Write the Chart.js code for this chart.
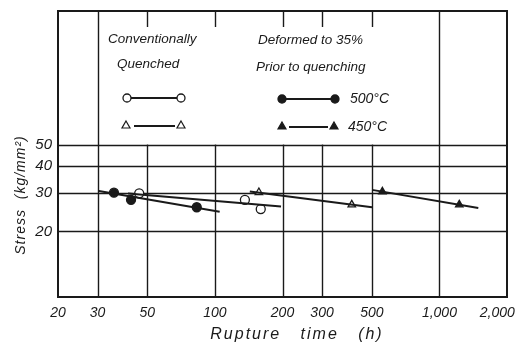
<!DOCTYPE html>
<html>
<head>
<meta charset="utf-8">
<script src="https://cdn.jsdelivr.net/npm/chart.js@4/dist/chart.umd.min.js"></script>
<style>
  body { margin: 0; background: #fff; }
  canvas { display: block; }
</style>
</head>
<body>
<canvas id="ruptureChart" width="517" height="346"></canvas>
<script>
// ejes
const xTicks = [20, 30, 50, 100, 200, 300, 500, 1000, 2000];
const xTickLabels = ['20', '30', '50', '100', '200', '300', '500', '1,000', '2,000     '];
const yTicks = [20, 30, 40, 50];
const yTickLabels = ['20', '30', '40', '50'];
const xFullGrid = [30, 1000];
const xPartGrid = [50, 100, 200, 300, 500];

// Conventionally quenched, 500°C (o)
const conv500Time = [46, 136, 160];
const conv500Stress = [29.9, 27.9, 25.3];
const conv500LineTime = [41, 197];
const conv500LineStress = [29.8, 26.0];

// Conventionally quenched, 450°C (triangulo abierto)
const conv450Time = [157, 407];
const conv450Stress = [30.2, 26.5];
const conv450LineTime = [143, 501];
const conv450LineStress = [30.5, 25.8];

// Deformed 35%, 500°C (punto lleno)
const def500Time = [35.5, 42.3, 83];
const def500Stress = [30.1, 27.9, 25.8];
const def500LineTime = [30.4, 105];
const def500LineStress = [30.6, 24.6];

// Deformed 35%, 450°C (triangulo lleno)
const def450Time = [557, 1226];
const def450Stress = [30.4, 26.5];
const def450LineTime = [501, 1490];
const def450LineStress = [31.0, 25.6];

const ink = '#1a1a1a';
const fontFam = '"Liberation Sans", Arial, sans-serif';

function toPoints(xs, ys) {
    return xs.map((x, i) => ({ x: x, y: ys[i] }));
}

function lineSet(xs, ys) {
    return {
        data: toPoints(xs, ys),
        showLine: true,
        borderColor: ink,
        borderWidth: 2,
        pointRadius: 0,
        fill: false
    };
}

function markSet(xs, ys, style, filled) {
    return {
        data: toPoints(xs, ys),
        showLine: false,
        pointStyle: style,
        pointRadius: style === 'triangle' ? 4.3 : 4.5,
        pointBorderWidth: 1.3,
        pointBorderColor: ink,
        pointBackgroundColor: filled ? ink : '#fff'
    };
}

// rejilla y marco dibujados con las escalas del grafico
const gridPlugin = {
    id: 'paperGrid',
    beforeDatasetsDraw(chart) {
        const { ctx, chartArea: a, scales: { x, y } } = chart;
        ctx.save();
        ctx.strokeStyle = ink;
        ctx.lineWidth = 1.4;
        yTicks.forEach(v => {
            const py = Math.round(y.getPixelForValue(v)) + 0.5;
            ctx.beginPath(); ctx.moveTo(a.left, py); ctx.lineTo(a.right, py); ctx.stroke();
        });
        const y50 = y.getPixelForValue(50);
        xFullGrid.forEach(v => {
            const px = Math.round(x.getPixelForValue(v)) + 0.5;
            ctx.beginPath(); ctx.moveTo(px, a.top); ctx.lineTo(px, a.bottom); ctx.stroke();
        });
        xPartGrid.forEach(v => {
            const px = Math.round(x.getPixelForValue(v)) + 0.5;
            ctx.beginPath(); ctx.moveTo(px, y50); ctx.lineTo(px, a.bottom); ctx.stroke();
            ctx.beginPath(); ctx.moveTo(px, a.top); ctx.lineTo(px, a.top + 16); ctx.stroke();
        });
        ctx.lineWidth = 2;
        ctx.strokeRect(a.left, a.top, a.right - a.left, a.bottom - a.top);
        ctx.restore();
    }
};

// leyenda dentro del area y titulos de los ejes
const legendPlugin = {
    id: 'paperLegend',
    afterDraw(chart) {
        const { ctx } = chart;
        ctx.save();
        ctx.fillStyle = ink;
        ctx.strokeStyle = ink;
        ctx.font = 'italic 13.5px ' + fontFam;
        ctx.textBaseline = 'middle';
        ctx.textAlign = 'left';
        ctx.fillText('Conventionally', 108, 39);
        ctx.fillText('Quenched', 117, 64);
        ctx.fillText('Deformed to 35%', 258, 40);
        ctx.fillText('Prior to quenching', 256, 67);
        ctx.font = 'italic 14px ' + fontFam;
        ctx.fillText('500°C', 350, 99);
        ctx.fillText('450°C', 348, 127);

        function seg(x1, x2, yy) {
            ctx.lineWidth = 2;
            ctx.beginPath(); ctx.moveTo(x1, yy); ctx.lineTo(x2, yy); ctx.stroke();
        }
        function circ(cx, cy, filled) {
            ctx.lineWidth = 1.3;
            ctx.beginPath(); ctx.arc(cx, cy, 4, 0, Math.PI * 2);
            ctx.fillStyle = filled ? ink : '#fff';
            ctx.fill(); ctx.stroke();
        }
        function tri(cx, cy, filled) {
            ctx.lineWidth = 1.2;
            ctx.beginPath();
            ctx.moveTo(cx, cy - 4); ctx.lineTo(cx + 4, cy + 3); ctx.lineTo(cx - 4, cy + 3); ctx.closePath();
            ctx.fillStyle = filled ? ink : '#fff';
            ctx.fill(); ctx.stroke();
        }
        seg(127, 181, 98); circ(127, 98, false); circ(181, 98, false);
        seg(134, 175, 126); tri(126, 125, false); tri(181, 125, false);
        seg(282, 335, 99); circ(282, 99, true); circ(335, 99, true);
        seg(289, 328, 127); tri(282, 126, true); tri(334, 126, true);

        // titulos
        ctx.fillStyle = ink;
        ctx.font = 'italic 16px ' + fontFam;
        ctx.letterSpacing = '2px';
        ctx.textAlign = 'center';
        ctx.fillText('Rupture   time   (h)', 297, 335);
        ctx.translate(21, 195);
        ctx.rotate(-Math.PI / 2);
        ctx.font = 'italic 14px ' + fontFam;
        ctx.letterSpacing = '1px';
        ctx.fillText('Stress  (kg/mm²)', 0, 0);
        ctx.restore();
    }
};

const ctx = document.getElementById('ruptureChart').getContext('2d');
const chart = new Chart(ctx, {
    type: 'scatter',
    data: {
        datasets: [
            lineSet(def500LineTime, def500LineStress),
            lineSet(conv500LineTime, conv500LineStress),
            lineSet(conv450LineTime, conv450LineStress),
            lineSet(def450LineTime, def450LineStress),
            markSet(conv500Time, conv500Stress, 'circle', false),
            markSet(def500Time, def500Stress, 'circle', true),
            markSet(conv450Time, conv450Stress, 'triangle', false),
            markSet(def450Time, def450Stress, 'triangle', true)
        ]
    },
    options: {
        responsive: false,
        animation: false,
        layout: { padding: { top: 11, right: 10, left: 0, bottom: 0 } },
        plugins: { legend: { display: false }, tooltip: { enabled: false } },
        scales: {
            x: {
                type: 'logarithmic',
                min: 20,
                max: 2000,
                grid: { display: false, drawTicks: false },
                border: { display: false },
                afterBuildTicks: s => { s.ticks = xTicks.map(v => ({ value: v })); },
                afterFit: s => {
                    s.height = 49;
                    s.paddingLeft = 0;
                    s.paddingRight = 0;
                },
                ticks: {
                    autoSkip: false,
                    maxRotation: 0,
                    padding: 8,
                    color: ink,
                    font: { family: fontFam, style: 'italic', size: 14 },
                    callback: (v, i) => xTickLabels[i]
                }
            },
            y: {
                type: 'logarithmic',
                min: 10,
                max: 205,
                grid: { display: false, drawTicks: false },
                border: { display: false },
                afterBuildTicks: s => { s.ticks = yTicks.map(v => ({ value: v })); },
                afterFit: s => {
                    s.width = 58;
                    s.paddingTop = 0;
                    s.paddingBottom = 0;
                },
                ticks: {
                    autoSkip: false,
                    padding: 6,
                    color: ink,
                    font: { family: fontFam, style: 'italic', size: 15 },
                    callback: (v, i) => yTickLabels[i]
                }
            }
        }
    },
    plugins: [gridPlugin, legendPlugin]
});
</script>
</body>
</html>
